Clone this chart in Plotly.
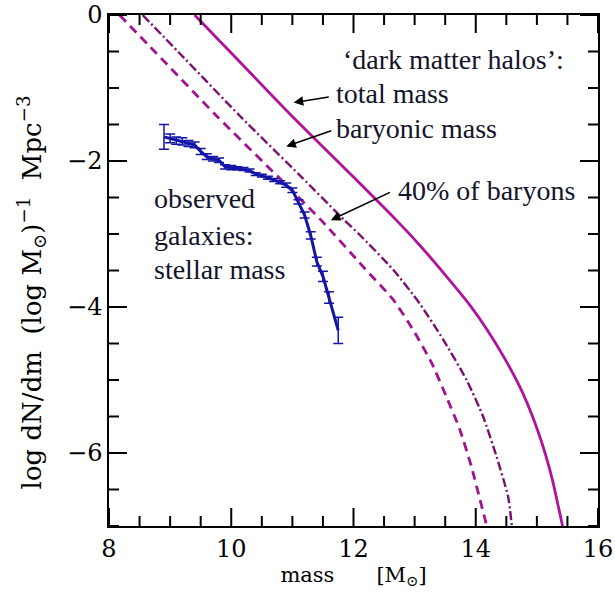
import plotly.graph_objects as go

# Halo mass functions: log10 mass [Msun] vs log dN/dm
total_mass = [9.40, 10.0, 11.0, 12.0, 12.70, 13.08, 13.52, 13.90, 14.17, 14.47, 14.77, 15.05, 15.24, 15.42]
total_phi = [0.0, -0.52, -1.39, -2.22, -2.81, -3.15, -3.58, -3.97, -4.29, -4.70, -5.18, -5.78, -6.32, -7.0]

baryon_mass = [8.55, 9.15, 10.15, 11.15, 11.85, 12.10, 12.65, 13.08, 13.47, 13.85, 14.12, 14.34, 14.53, 14.59]
baryon_phi = [0.0, -0.52, -1.39, -2.22, -2.81, -3.01, -3.49, -3.95, -4.45, -5.00, -5.50, -6.05, -6.60, -7.0]

frac40_mass = [8.17, 8.77, 9.77, 10.77, 11.47, 12.16, 12.65, 12.98, 13.28, 13.52, 13.74, 13.93, 14.07, 14.18]
frac40_phi = [0.0, -0.52, -1.39, -2.22, -2.81, -3.45, -3.90, -4.32, -4.77, -5.23, -5.68, -6.19, -6.64, -7.0]

# Observed galaxy stellar mass function
obs_mass = [8.90, 9.00, 9.10, 9.20, 9.30, 9.40, 9.50, 9.60, 9.70, 9.80, 9.90, 10.00,
            10.10, 10.20, 10.30, 10.40, 10.50, 10.60, 10.70, 10.80, 10.90, 11.00,
            11.10, 11.20, 11.30, 11.40, 11.50, 11.60, 11.75]
obs_phi = [-1.67, -1.69, -1.72, -1.73, -1.76, -1.78, -1.87, -1.94, -1.97, -1.99, -2.08, -2.09,
           -2.10, -2.11, -2.13, -2.18, -2.20, -2.23, -2.26, -2.29, -2.33, -2.40,
           -2.56, -2.74, -3.02, -3.38, -3.58, -3.87, -4.32]
obs_err = [0.17, 0.06, 0.05, 0.05, 0.04, 0.04, 0.04, 0.04, 0.03, 0.03, 0.03, 0.03,
           0.02, 0.02, 0.02, 0.02, 0.02, 0.02, 0.02, 0.02, 0.03, 0.03,
           0.03, 0.04, 0.05, 0.06, 0.07, 0.08, 0.18]

# Axis ranges and tick positions
X_RANGE = [8, 16]
Y_RANGE = [-7, 0]
x_major = [8, 10, 12, 14, 16]
y_major = [0, -2, -4, -6]
x_minor = [8 + 0.5 * i for i in range(17) if (8 + 0.5 * i) not in x_major]
y_minor = [-0.5 * i for i in range(15) if (-0.5 * i) not in y_major]

W, H = 615, 603
M = dict(l=109, r=17, t=15, b=77)
plot_w = W - M["l"] - M["r"]
plot_h = H - M["t"] - M["b"]
x_per_px = (X_RANGE[1] - X_RANGE[0]) / plot_w
y_per_px = (Y_RANGE[1] - Y_RANGE[0]) / plot_h

fig = go.Figure()

fig.add_trace(go.Scatter(x=total_mass, y=total_phi, mode="lines", line_shape="spline",
                         line=dict(color="#b0129c", width=2.8, smoothing=0.6)))
fig.add_trace(go.Scatter(x=baryon_mass, y=baryon_phi, mode="lines", line_shape="spline",
                         line=dict(color="#7a1070", width=2.4, dash="9px,3px,2px,3px", smoothing=0.6)))
fig.add_trace(go.Scatter(x=frac40_mass, y=frac40_phi, mode="lines", line_shape="spline",
                         line=dict(color="#a0128e", width=2.8, dash="9px,6px", smoothing=0.6)))
fig.add_trace(go.Scatter(x=obs_mass, y=obs_phi, mode="lines",
                         line=dict(color="#1414a8", width=3),
                         error_y=dict(type="data", array=obs_err, visible=True,
                                      color="#1414a8", thickness=1.5, width=5)))

serif = "Liberation Serif, Times New Roman, Times, serif"
axis_family = "DejaVu Serif, serif"
txt_color = "#14142a"
text_size = 28

labels = [
    ("\u2018dark matter halos\u2019:", 11.80, -0.61),
    ("total mass", 11.68, -1.07),
    ("baryonic mass", 11.68, -1.55),
    ("40% of baryons", 12.70, -2.41),
    ("observed", 8.70, -2.51),
    ("galaxies:", 8.70, -3.02),
    ("stellar mass", 8.70, -3.49),
]
for text, x, y in labels:
    fig.add_annotation(x=x, y=y, text=text, showarrow=False, xanchor="left", yanchor="middle",
                       font=dict(family=serif, size=text_size, color=txt_color))

# Pointer arrows (head, tail)
arrows = [
    ((11.02, -1.20), (11.62, -1.12)),
    ((10.90, -1.80), (11.66, -1.58)),
    ((11.63, -2.81), (12.62, -2.42)),
]
for (hx, hy), (tx, ty) in arrows:
    fig.add_annotation(x=hx, y=hy, ax=tx, ay=ty, axref="x", ayref="y", xref="x", yref="y",
                       text="", showarrow=True, arrowhead=2, arrowsize=1.2, arrowwidth=1.6,
                       arrowcolor="#000000")

# Vertical axis title
fig.add_annotation(xref="paper", yref="y", x=0, y=-3.8, xshift=-78, textangle=-90,
                   text="log\u00a0dN/dm\u00a0\u00a0(log\u00a0M<sub>\u2299</sub>)<sup>\u22121</sup>\u00a0\u00a0Mpc<sup>\u22123</sup>",
                   showarrow=False, xanchor="center", yanchor="middle",
                   font=dict(family=axis_family, size=26, color="#000000"))

# Inward-facing tick marks on all four sides of the frame
tick_line = dict(color="#000000", width=2)


def add_ticks(values, length_px, vertical_axis):
    for v in values:
        if vertical_axis:
            d = length_px * x_per_px
            fig.add_shape(type="line", xref="x", yref="y", x0=X_RANGE[0], x1=X_RANGE[0] + d,
                          y0=v, y1=v, line=tick_line, layer="above")
            fig.add_shape(type="line", xref="x", yref="y", x0=X_RANGE[1], x1=X_RANGE[1] - d,
                          y0=v, y1=v, line=tick_line, layer="above")
        else:
            d = length_px * y_per_px
            fig.add_shape(type="line", xref="x", yref="y", x0=v, x1=v,
                          y0=Y_RANGE[0], y1=Y_RANGE[0] + d, line=tick_line, layer="above")
            fig.add_shape(type="line", xref="x", yref="y", x0=v, x1=v,
                          y0=Y_RANGE[1], y1=Y_RANGE[1] - d, line=tick_line, layer="above")


add_ticks(x_major, 18, False)
add_ticks(x_minor, 10, False)
add_ticks(y_major, 18, True)
add_ticks(y_minor, 10, True)

tick_font = dict(family=axis_family, size=24, color="#000000")
frame = dict(showgrid=False, zeroline=False, showline=True, linecolor="#000000", linewidth=1.5,
             mirror=True, ticks="", tickfont=tick_font, tickmode="linear", dtick=2,
             automargin=False)

fig.update_layout(
    template="none", width=W, height=H, margin=M,
    plot_bgcolor="#ffffff", paper_bgcolor="#ffffff", showlegend=False,
    xaxis=dict(range=X_RANGE, tick0=8, **frame,
               title=dict(text="mass\u2003\u2003[M<sub>\u2299</sub>]", standoff=2,
                          font=dict(family=axis_family, size=21, color="#000000"))),
    yaxis=dict(range=Y_RANGE, tick0=0, **frame),
)

fig.write_html("out.html")
